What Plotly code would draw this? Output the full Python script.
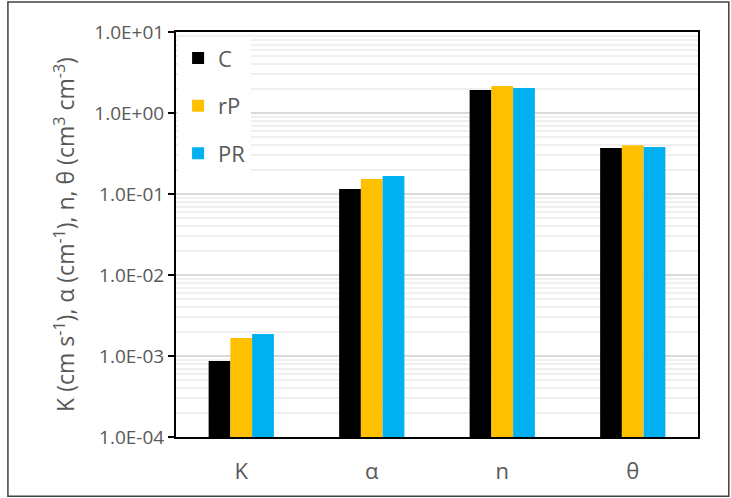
import plotly.graph_objects as go

categories = ["K", "α", "n", "θ"]
series_names = ["C", "rP", "PR"]
values_C = [0.00087, 0.115, 1.92, 0.37]
values_rP = [0.00167, 0.153, 2.15, 0.40]
values_PR = [0.00187, 0.167, 2.04, 0.38]
colors = ["#000000", "#FFC000", "#00B0F0"]
tick_vals = [1e-4, 1e-3, 1e-2, 1e-1, 1e0, 1e1]
tick_text = ["1.0E-04", "1.0E-03", "1.0E-02", "1.0E-01", "1.0E+00", "1.0E+01"]

font_family = "Open Sans, Liberation Sans, sans-serif"
fig = go.Figure()
for name, vals, col in zip(series_names, [values_C, values_rP, values_PR], colors):
    fig.add_trace(go.Bar(x=categories, y=vals, name=name, marker=dict(color=col, line=dict(width=0)),
                         legendgroup=name))

fig.update_layout(
    width=731, height=498,
    margin=dict(l=176, r=33, t=32, b=61),
    paper_bgcolor="white", plot_bgcolor="white",
    barmode="group", bargap=0.5, bargroupgap=0,
    font=dict(family=font_family, color="#595959"),
    showlegend=True,
    legend=dict(x=0.004, y=0.987, xanchor="left", yanchor="top", bgcolor="white",
                font=dict(size=22, color="#595959"), tracegroupgap=16,
                itemwidth=30),
    xaxis=dict(showline=True, linecolor="black", linewidth=2, mirror=True,
               tickfont=dict(size=22, color="#595959"), ticks="", ticklabelstandoff=14),
    yaxis=dict(type="log", range=[-4, 1], tickvals=tick_vals, ticktext=tick_text,
               showline=True, linecolor="black", linewidth=2, mirror=True,
               ticks="outside", ticklen=6, tickcolor="black", tickwidth=1.5,
               tickfont=dict(size=19, color="#595959"),
               showgrid=True, gridcolor="#D9D9D9", gridwidth=1.5,
               minor=dict(dtick="D1", showgrid=True, gridcolor="#EFEFEF", gridwidth=1.5, ticks=""),
               title=dict(text="K (cm s<sup>-1</sup>), α (cm<sup>-1</sup>), n, θ (cm<sup>3</sup> cm<sup>-3</sup>)",
                          font=dict(size=23, color="#595959"), standoff=13)),
    shapes=[dict(type="rect", xref="paper", yref="paper", x0=-0.322, x1=1.059, y0=-0.146, y1=1.074,
                 line=dict(color="#404040", width=1.5), fillcolor="rgba(0,0,0,0)", layer="below")],
)
fig.write_html("out.html", config={"displayModeBar": False},
               post_script="document.body.style.margin='0';")
